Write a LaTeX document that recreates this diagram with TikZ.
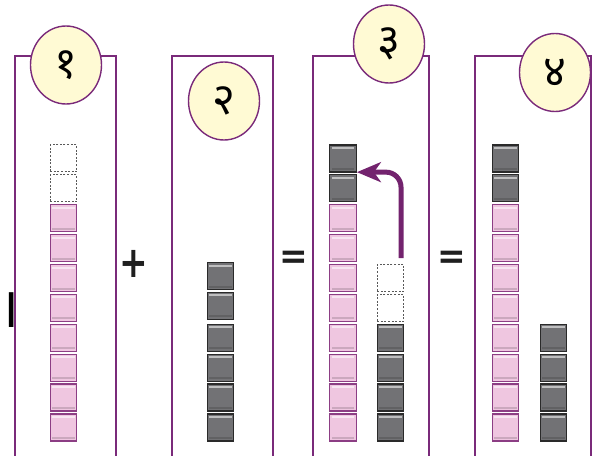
\documentclass[tikz,border=0pt]{standalone}
\usepackage{fontspec}
\usepackage{tikz}
\usetikzlibrary{arrows.meta,shapes.geometric,calc}
\newfontfamily\devfont[Script=Devanagari]{Noto Sans}
\newfontfamily\symfont{DejaVu Sans}
\definecolor{panelPurple}{RGB}{122,42,122}
\definecolor{circleYellow}{RGB}{255,250,212}
\definecolor{unitPink}{RGB}{239,198,224}
\definecolor{pinkEdge}{RGB}{140,62,132}
\definecolor{unitGray}{RGB}{114,114,117}
\definecolor{grayEdge}{RGB}{42,42,42}
\definecolor{arrowPurple}{RGB}{115,35,110}
\tikzset{
  panel/.style={draw=panelPurple, line width=2pt},
  stepcircle/.style={
    ellipse, draw=panelPurple, line width=1.4pt, fill=circleYellow,
    minimum width=71pt, minimum height=78pt, inner sep=0pt,
    font=\devfont\fontsize{44}{44}\selectfont
  },
  bevel/.style={path picture={
    \fill[white,opacity=0.55] ([xshift=2pt,yshift=-2pt]path picture bounding box.north west)
      rectangle ([xshift=-2pt,yshift=-4pt]path picture bounding box.north east);
    \fill[black,opacity=0.15] ([xshift=2pt,yshift=2pt]path picture bounding box.south west)
      rectangle ([xshift=-2pt,yshift=4pt]path picture bounding box.south east);}
  },
  unitbox/.style={rectangle, minimum width=26.5pt, minimum height=27pt, inner sep=0pt},
  unitpink/.style={unitbox, bevel, fill=unitPink, draw=pinkEdge, line width=1.3pt},
  unitgray/.style={unitbox, bevel, fill=unitGray, draw=grayEdge, line width=1.3pt},
  emptyslot/.style={unitbox, draw=black!65, line width=0.9pt, dash pattern=on 2pt off 1.6pt},
  opsign/.style={inner sep=0pt, font=\symfont\bfseries\fontsize{36}{36}\selectfont, text=black!88},
  moveArrow/.style={-{Stealth[length=24pt,width=20pt,inset=7pt]}, line width=5pt,
    draw=arrowPurple, rounded corners=15pt}
}
\begin{document}
\begin{tikzpicture}[x=1pt, y=-1pt]
  \useasboundingbox (0,0) rectangle (596,455);
  % panels, open at the bottom
  \draw[panel] (15,462) -- (15,56) -- (116,56) -- (116,462);
  \draw[panel] (172,462) -- (172,56) -- (273,56) -- (273,462);
  \draw[panel] (313,462) -- (313,56) -- (429,56) -- (429,462);
  \draw[panel] (475,462) -- (475,56) -- (591,56) -- (591,462);
  % step labels
  \node[stepcircle] (s1) at (66,65)    {१};
  \node[stepcircle] (s2) at (224,101)  {२};
  \node[stepcircle] (s3) at (389,44)   {३};
  \node[stepcircle] (s4) at (555,72.5) {४};
  % first addend
  \foreach \i in {0,...,7}
    \node[unitpink] (a\i) at (63.5,427.5-29.9*\i) {};
  \foreach \i in {8,9}
    \node[emptyslot] (a\i) at (63.5,427.5-29.9*\i) {};
  \node[font=\devfont\fontsize{56}{56}\selectfont, inner sep=0pt] (tens) at (9.5,310.5) {\makebox[0pt]{।}};
  % second addend
  \foreach \i in {0,...,3}
    \node[unitgray] (b\i) at (220.5,427.5-29.9*\i) {};
  \foreach \i in {4,5}
    \node[unitgray] (b\i) at (220.5,425.5-29.9*\i) {};
  % regrouping
  \foreach \i in {0,...,7}
    \node[unitpink] (c\i) at (343,427.5-29.9*\i) {};
  \foreach \i in {8,9}
    \node[unitgray] (c\i) at (343,427.5-29.9*\i) {};
  \foreach \i in {0,...,3}
    \node[unitgray] (d\i) at (390.5,427.5-29.9*\i) {};
  \foreach \i in {4,5}
    \node[emptyslot] (d\i) at (390.5,427.5-29.9*\i) {};
  \coordinate (tail) at ($(d5.north)+(10.5,-6)$);
  \coordinate (tip) at ($(c8.north east)+(0,-2)$);
  \draw[moveArrow] (tail) |- (tip);
  % result
  \foreach \i in {0,...,7}
    \node[unitpink] (e\i) at (505.5,427.5-29.9*\i) {};
  \foreach \i in {8,9}
    \node[unitgray] (e\i) at (505.5,427.5-29.9*\i) {};
  \foreach \i in {0,...,3}
    \node[unitgray] (f\i) at (553.5,427.5-29.9*\i) {};
  % signs
  \node[opsign] (plus) at (134,264) {\scalebox{0.95}[1.2]{+}};
  \node[opsign] (eq1) at (294,260) {\scalebox{0.95}[1]{=}};
  \node[opsign] (eq2) at (452,260) {\scalebox{0.95}[1]{=}};
\end{tikzpicture}
\end{document}
